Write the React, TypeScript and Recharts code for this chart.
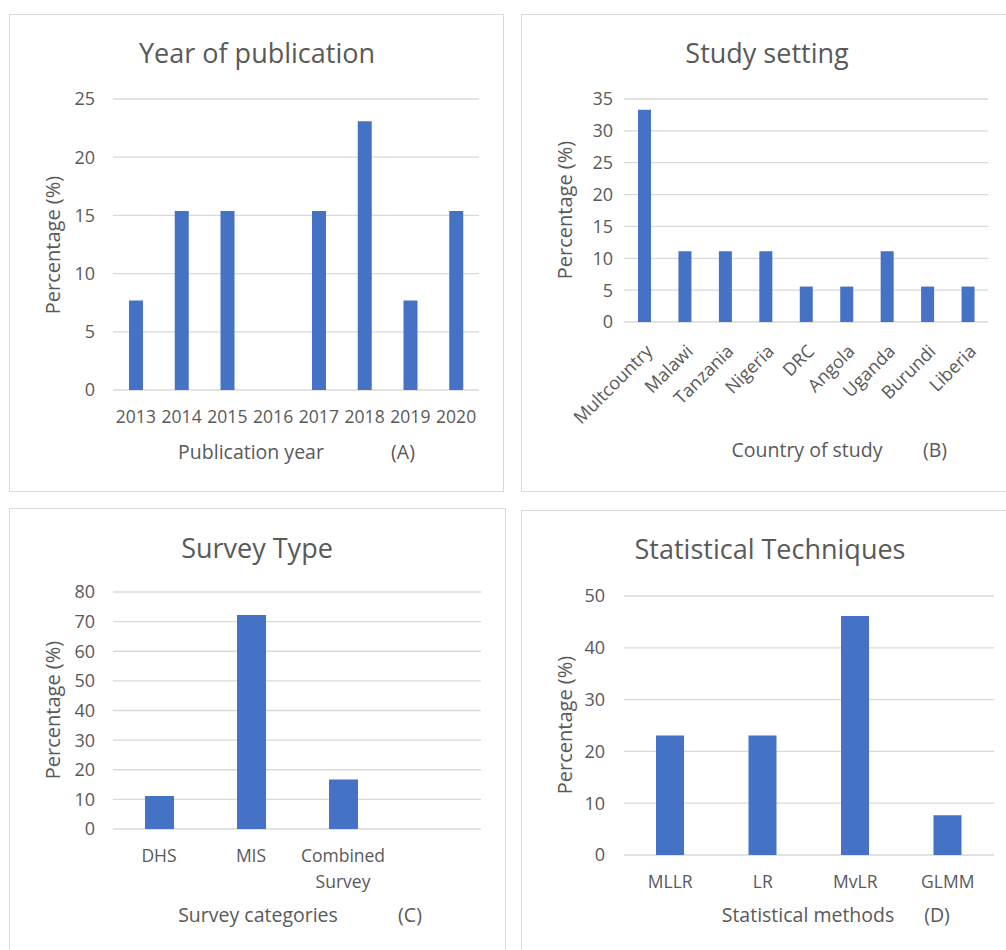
import React from 'react';
import { BarChart, Bar, XAxis, YAxis, CartesianGrid } from 'recharts';

const yearCategories = ['2013', '2014', '2015', '2016', '2017', '2018', '2019', '2020'];
const yearValues = [7.69, 15.38, 15.38, 0, 15.38, 23.08, 7.69, 15.38];
const yearTicks = [0, 5, 10, 15, 20, 25];

const countryCategories = ['Multcountry', 'Malawi', 'Tanzania', 'Nigeria', 'DRC', 'Angola', 'Uganda', 'Burundi', 'Liberia'];
const countryValues = [33.33, 11.11, 11.11, 11.11, 5.56, 5.56, 11.11, 5.56, 5.56];
const countryTicks = [0, 5, 10, 15, 20, 25, 30, 35];

const surveyCategories = ['DHS', 'MIS', 'Combined Survey', ''];
const surveyValues: (number | null)[] = [11.11, 72.22, 16.67, null];
const surveyTicks = [0, 10, 20, 30, 40, 50, 60, 70, 80];

const methodCategories = ['MLLR', 'LR', 'MvLR', 'GLMM'];
const methodValues = [23.08, 23.08, 46.15, 7.69];
const methodTicks = [0, 10, 20, 30, 40, 50];

const FONT = "'Open Sans', sans-serif";
const TEXT = '#595959';
const GRID = '#d9d9d9';
const BAR = '#4472C4';

const build = (cats: string[], vals: (number | null)[]) => cats.map((c, i) => ({ name: c, value: vals[i] }));

const WrapTick = (props: any) => {
  const { x, y, payload, fontSize } = props;
  const words = String(payload.value).split(' ');
  return (
    <text x={x} y={y} textAnchor="middle" fill={TEXT} fontSize={fontSize} fontFamily={FONT}>
      {words.map((w, i) => (
        <tspan key={i} x={x} dy={i === 0 ? '0.71em' : 26}>{w}</tspan>
      ))}
    </text>
  );
};

const RotTick = (props: any) => {
  const { x, y, payload } = props;
  const ax = x + 5;
  return (
    <text
      x={ax}
      y={y}
      transform={`rotate(-45 ${ax} ${y})`}
      textAnchor="end"
      fill={TEXT}
      fontSize={18}
      fontFamily={FONT}
      dy="0.35em"
    >
      {payload.value}
    </text>
  );
};

type Lbl = { text: string; x: number; y: number; size: number; rotate?: boolean };

const Label = ({ text, x, y, size, rotate }: Lbl) => (
  <div
    style={{
      position: 'absolute',
      left: x,
      top: y,
      transform: `translate(-50%, -50%)${rotate ? ' rotate(-90deg)' : ''}`,
      whiteSpace: 'nowrap',
      fontSize: size,
      lineHeight: 1,
      color: TEXT,
      fontFamily: FONT,
    }}
  >
    {text}
  </div>
);

type PanelProps = {
  box: { left: number; top: number; width: number; height: number };
  data: { name: string; value: number | null }[];
  ticks: number[];
  margin: { top: number; right: number; bottom: number; left: number };
  barSize: number;
  yTickMargin: number;
  xTick: any;
  xTickMargin: number;
};

const Panel = ({ box, data, ticks, margin, barSize, yTickMargin, xTick, xTickMargin }: PanelProps) => (
  <>
    <div
      style={{
        position: 'absolute',
        left: box.left,
        top: box.top,
        width: box.width,
        height: box.height,
        border: `1.5px solid ${GRID}`,
        boxSizing: 'border-box',
      }}
    />
    <div style={{ position: 'absolute', left: box.left, top: box.top }}>
      <BarChart width={box.width} height={box.height} data={data} margin={margin}>
        <CartesianGrid horizontal vertical={false} stroke={GRID} strokeWidth={1.3} />
        <XAxis
          dataKey="name"
          axisLine={false}
          tickLine={false}
          tickSize={0}
          tickMargin={xTickMargin}
          height={20}
          interval={0}
          tick={xTick}
        />
        <YAxis
          domain={[ticks[0], ticks[ticks.length - 1]]}
          ticks={ticks}
          axisLine={false}
          tickLine={false}
          tickSize={0}
          tickMargin={yTickMargin}
          width={60}
          interval={0}
          tick={{ fill: TEXT, fontSize: 18, fontFamily: FONT }}
        />
        <Bar dataKey="value" fill={BAR} barSize={barSize} isAnimationActive={false} />
      </BarChart>
    </div>
  </>
);

export default function App() {
  return (
    <div
      style={{
        position: 'absolute',
        left: 0,
        top: 0,
        width: 1006,
        height: 950,
        background: '#fff',
        overflow: 'hidden',
        fontFamily: FONT,
      }}
    >
      {/* Panel A */}
      <Panel
        box={{ left: 9, top: 14, width: 495, height: 478 }}
        data={build(yearCategories, yearValues)}
        ticks={yearTicks}
        margin={{ top: 85, right: 25, bottom: 82, left: 44 }}
        barSize={14}
        yTickMargin={18}
        xTick={{ fill: TEXT, fontSize: 17.5, fontFamily: FONT }}
        xTickMargin={21}
      />
      <Label text="Year of publication" x={257} y={52} size={27} />
      <Label text="Percentage (%)" x={53} y={245} size={20} rotate />
      <Label text="Publication year" x={251} y={452} size={19.5} />
      <Label text="(A)" x={403} y={452} size={19.5} />

      {/* Panel B */}
      <Panel
        box={{ left: 521, top: 14, width: 500, height: 478 }}
        data={build(countryCategories, countryValues)}
        ticks={countryTicks}
        margin={{ top: 85, right: 33, bottom: 150, left: 43 }}
        barSize={13}
        yTickMargin={11}
        xTick={<RotTick />}
        xTickMargin={26}
      />
      <Label text="Study setting" x={767} y={52} size={27} />
      <Label text="Percentage (%)" x={565} y={210} size={20} rotate />
      <Label text="Country of study" x={807} y={450} size={19.5} />
      <Label text="(B)" x={935} y={450} size={19.5} />

      {/* Panel C */}
      <Panel
        box={{ left: 9, top: 508, width: 497, height: 460 }}
        data={build(surveyCategories, surveyValues)}
        ticks={surveyTicks}
        margin={{ top: 84, right: 25, bottom: 119, left: 44 }}
        barSize={29}
        yTickMargin={18}
        xTick={<WrapTick fontSize={17.5} />}
        xTickMargin={21}
      />
      <Label text="Survey Type" x={257} y={547} size={27} />
      <Label text="Percentage (%)" x={53} y={710} size={20} rotate />
      <Label text="Survey categories" x={258} y={915} size={19.5} />
      <Label text="(C)" x={410} y={915} size={19.5} />

      {/* Panel D */}
      <Panel
        box={{ left: 521, top: 510, width: 500, height: 460 }}
        data={build(methodCategories, methodValues)}
        ticks={methodTicks}
        margin={{ top: 86, right: 27, bottom: 95, left: 43 }}
        barSize={28}
        yTickMargin={19}
        xTick={{ fill: TEXT, fontSize: 17.5, fontFamily: FONT }}
        xTickMargin={21}
      />
      <Label text="Statistical Techniques" x={770} y={548} size={27} />
      <Label text="Percentage (%)" x={565} y={725} size={20} rotate />
      <Label text="Statistical methods" x={808} y={915} size={19.5} />
      <Label text="(D)" x={937} y={915} size={19.5} />
    </div>
  );
}
